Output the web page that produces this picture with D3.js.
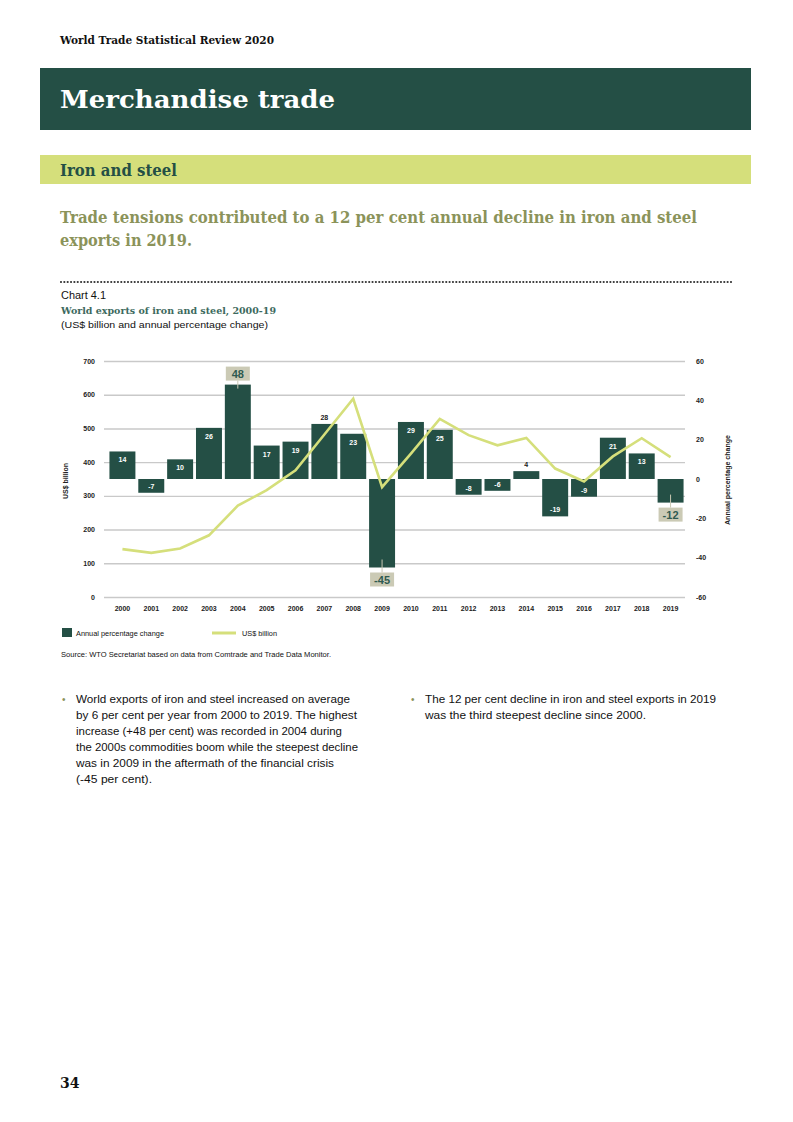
<!DOCTYPE html>
<html>
<head>
<meta charset="utf-8">
<script src="https://cdn.jsdelivr.net/npm/d3@7"></script>
<style>
  body { margin: 0; background: #fff; }
  svg text { font-family: "Liberation Sans", Arial, sans-serif; }
  .slab { font-family: "DejaVu Serif", serif; }
  .chartfont { font-family: "Open Sans", "Liberation Sans", sans-serif; }
</style>
</head>
<body>
<div id="page"></div>
<script>
// ---- data ----
var years = ["2000","2001","2002","2003","2004","2005","2006","2007","2008","2009",
             "2010","2011","2012","2013","2014","2015","2016","2017","2018","2019"];
var pctChange = [14, -7, 10, 26, 48, 17, 19, 28, 23, -45, 29, 25, -8, -6, 4, -19, -9, 21, 13, -12];
var usdBillion = [142, 131, 144, 183, 271, 317, 376, 482, 588, 326, 425, 528, 480, 450, 472, 381, 343, 417, 471, 415];
var leftTicks = [0, 100, 200, 300, 400, 500, 600, 700];
var rightTicks = [-60, -40, -20, 0, 20, 40, 60];
var highlightYears = ["2004", "2009", "2019"];
var outsideLabelYears = ["2007", "2014"];

var dark = "#244f45", lime = "#d5df7b", olive = "#8b935a";

var svg = d3.select("#page").append("svg")
    .attr("width", 793).attr("height", 1122);

// ---- page header ----
svg.append("text").attr("class", "slab")
   .attr("x", 60).attr("y", 44)
   .attr("font-size", 11).attr("font-weight", "bold").attr("fill", "#111")
   .attr("textLength", 214).attr("lengthAdjust", "spacingAndGlyphs")
   .text("World Trade Statistical Review 2020");

svg.append("rect").attr("x", 40).attr("y", 68).attr("width", 711).attr("height", 62).attr("fill", dark);
svg.append("text").attr("class", "slab")
   .attr("x", 60).attr("y", 108)
   .attr("font-size", 24).attr("font-weight", "bold").attr("fill", "#fff")
   .attr("textLength", 275).attr("lengthAdjust", "spacingAndGlyphs")
   .text("Merchandise trade");

svg.append("rect").attr("x", 40).attr("y", 155).attr("width", 711).attr("height", 29).attr("fill", lime);
svg.append("text").attr("class", "slab")
   .attr("x", 60).attr("y", 176)
   .attr("font-size", 16.5).attr("font-weight", "bold").attr("fill", dark)
   .attr("textLength", 117).attr("lengthAdjust", "spacingAndGlyphs")
   .text("Iron and steel");

var headline = [
  {t: "Trade tensions contributed to a 12 per cent annual decline in iron and steel", w: 637},
  {t: "exports in 2019.", w: 132}
];
svg.selectAll(".headline").data(headline).enter().append("text")
   .attr("class", "slab headline")
   .attr("x", 60).attr("y", (d, i) => 223 + i * 23)
   .attr("font-size", 16.5).attr("font-weight", "bold").attr("fill", olive)
   .attr("textLength", d => d.w).attr("lengthAdjust", "spacingAndGlyphs")
   .text(d => d.t);

// dotted separator
svg.append("line").attr("x1", 61).attr("x2", 733).attr("y1", 282).attr("y2", 282)
   .attr("stroke", "#333").attr("stroke-width", 2.2)
   .attr("stroke-linecap", "round").attr("stroke-dasharray", "0 3.35");

svg.append("text").attr("x", 61).attr("y", 299)
   .attr("font-size", 10).attr("fill", "#111")
   .attr("textLength", 45).attr("lengthAdjust", "spacingAndGlyphs")
   .text("Chart 4.1");
svg.append("text").attr("class", "slab")
   .attr("x", 61).attr("y", 314)
   .attr("font-size", 10).attr("font-weight", "bold").attr("fill", "#3d6a5e")
   .attr("textLength", 215).attr("lengthAdjust", "spacingAndGlyphs")
   .text("World exports of iron and steel, 2000-19");
svg.append("text").attr("x", 61).attr("y", 328)
   .attr("font-size", 9.5).attr("fill", "#111")
   .attr("textLength", 207).attr("lengthAdjust", "spacingAndGlyphs")
   .text("(US$ billion and annual percentage change)");

// ---- chart ----
var x = d3.scaleBand().domain(years).range([108, 685]).paddingInner(0.1).paddingOuter(0.05);
var yL = d3.scaleLinear().domain([0, 700]).range([597, 361]);
var yR = d3.scaleLinear().domain([-60, 60]).range([597, 361]);
var cx = d => x(d) + x.bandwidth() / 2;

var chart = svg.append("g").attr("class", "chartfont");

// gridlines + left axis
var gAxisL = chart.append("g").attr("transform", "translate(104,0)")
    .call(d3.axisRight(yL).tickValues(leftTicks).tickSize(581).tickFormat(""));
gAxisL.select(".domain").remove();
gAxisL.selectAll(".tick line").attr("stroke", "#c9c9c9").attr("stroke-width", 1.4);

chart.selectAll(".ltick").data(leftTicks).enter().append("text")
   .attr("x", 95).attr("y", d => yL(d) + 2.5)
   .attr("text-anchor", "end").attr("font-size", 7).attr("font-weight", "bold").attr("fill", "#222")
   .text(d => d);

var gAxisR = chart.append("g").attr("transform", "translate(690,0)")
    .call(d3.axisRight(yR).tickValues(rightTicks).tickSize(0).tickPadding(6).tickFormat(d => String(d)));
gAxisR.select(".domain").remove();
gAxisR.selectAll("text").attr("font-size", 7).attr("font-weight", "bold").attr("fill", "#222")
   .attr("font-family", "Open Sans, Liberation Sans, sans-serif");

chart.append("text")
   .attr("transform", "translate(68,481) rotate(-90)")
   .attr("text-anchor", "middle").attr("font-size", 7).attr("font-weight", "bold").attr("fill", "#222")
   .text("US$ billion");
chart.append("text")
   .attr("transform", "translate(730,480) rotate(-90)")
   .attr("text-anchor", "middle").attr("font-size", 7).attr("font-weight", "bold").attr("fill", "#222")
   .attr("textLength", 90).attr("lengthAdjust", "spacingAndGlyphs")
   .text("Annual percentage change");

// x labels
var gAxisX = chart.append("g").attr("transform", "translate(0,603)")
    .call(d3.axisBottom(x).tickSize(0).tickPadding(3));
gAxisX.select(".domain").remove();
gAxisX.selectAll("text").attr("font-size", 7).attr("font-weight", "bold").attr("fill", "#222")
   .attr("font-family", "Open Sans, Liberation Sans, sans-serif");

// bars
var barData = years.map((y, i) => ({year: y, pct: pctChange[i], usd: usdBillion[i]}));

chart.selectAll(".bar").data(barData).enter().append("rect")
   .attr("class", "bar")
   .attr("x", d => x(d.year)).attr("width", x.bandwidth())
   .attr("y", d => yR(Math.max(0, d.pct)))
   .attr("height", d => Math.abs(yR(d.pct) - yR(0)))
   .attr("fill", dark);

// line
var line = d3.line().x(d => cx(d.year)).y(d => yL(d.usd));
chart.append("path").datum(barData)
   .attr("d", line).attr("fill", "none")
   .attr("stroke", lime).attr("stroke-width", 2.6).attr("stroke-linejoin", "miter");

// normal bar labels
var plain = barData.filter(d => highlightYears.indexOf(d.year) < 0);
chart.selectAll(".blabel").data(plain).enter().append("text")
   .attr("class", "blabel")
   .attr("x", d => cx(d.year))
   .attr("y", d => {
      if (outsideLabelYears.indexOf(d.year) >= 0) return yR(d.pct) - 4;
      return d.pct >= 0 ? yR(d.pct) + 11 : yR(d.pct) - 4;
   })
   .attr("text-anchor", "middle").attr("font-size", 7).attr("font-weight", "600")
   .attr("fill", d => outsideLabelYears.indexOf(d.year) >= 0 ? "#222" : "#fff")
   .text(d => d.pct);

// highlighted labels in boxes
var hl = barData.filter(d => highlightYears.indexOf(d.year) >= 0);
var hg = chart.selectAll(".hl").data(hl).enter().append("g").attr("class", "hl");
hg.append("line")
   .attr("x1", d => cx(d.year)).attr("x2", d => cx(d.year))
   .attr("y1", d => d.pct >= 0 ? yR(d.pct) - 4 : yR(d.pct) - 8)
   .attr("y2", d => d.pct >= 0 ? yR(d.pct) + 4 : yR(d.pct) + 5)
   .attr("stroke", "#c9c8b3").attr("stroke-width", 1);
hg.append("rect")
   .attr("x", d => cx(d.year) - 12).attr("width", 24).attr("height", 14)
   .attr("y", d => d.pct >= 0 ? yR(d.pct) - 18 : yR(d.pct) + 5)
   .attr("fill", "#cbcab5");
hg.append("text")
   .attr("x", d => cx(d.year))
   .attr("y", d => d.pct >= 0 ? yR(d.pct) - 7 : yR(d.pct) + 16)
   .attr("text-anchor", "middle").attr("font-size", 11).attr("font-weight", "bold")
   .attr("fill", "#2f5a50")
   .text(d => d.pct);

// legend
chart.append("rect").attr("x", 62).attr("y", 628).attr("width", 10).attr("height", 9).attr("fill", dark);
chart.append("text").attr("x", 76).attr("y", 636)
   .attr("font-size", 7).attr("fill", "#111")
   .attr("textLength", 88).attr("lengthAdjust", "spacingAndGlyphs")
   .text("Annual percentage change");
chart.append("line").attr("x1", 212).attr("x2", 236).attr("y1", 633).attr("y2", 633)
   .attr("stroke", lime).attr("stroke-width", 3);
chart.append("text").attr("x", 242).attr("y", 636)
   .attr("font-size", 7).attr("fill", "#111")
   .attr("textLength", 35).attr("lengthAdjust", "spacingAndGlyphs")
   .text("US$ billion");

svg.append("text").attr("x", 61).attr("y", 657)
   .attr("font-size", 6.8).attr("fill", "#111")
   .attr("textLength", 270).attr("lengthAdjust", "spacingAndGlyphs")
   .text("Source: WTO Secretariat based on data from Comtrade and Trade Data Monitor.");

// ---- body text ----
var colLeft = [
  {t: "World exports of iron and steel increased on average", w: 274},
  {t: "by 6 per cent per year from 2000 to 2019. The highest", w: 281},
  {t: "increase (+48 per cent) was recorded in 2004 during", w: 266},
  {t: "the 2000s commodities boom while the steepest decline", w: 282},
  {t: "was in 2009 in the aftermath of the financial crisis", w: 258},
  {t: "(-45 per cent).", w: 76}
];
var colRight = [
  {t: "The 12 per cent decline in iron and steel exports in 2019", w: 291},
  {t: "was the third steepest decline since 2000.", w: 221}
];
function para(lines, x0) {
  svg.append("text").attr("x", x0 - 14).attr("y", 703)
     .attr("font-size", 10).attr("fill", olive).text("•");
  svg.selectAll(null).data(lines).enter().append("text")
     .attr("x", x0).attr("y", (d, i) => 703 + i * 16)
     .attr("font-size", 11).attr("fill", "#111")
     .attr("textLength", d => d.w).attr("lengthAdjust", "spacingAndGlyphs")
     .text(d => d.t);
}
para(colLeft, 76);
para(colRight, 425);

svg.append("text").attr("class", "slab")
   .attr("x", 60).attr("y", 1088)
   .attr("font-size", 14).attr("font-weight", "bold").attr("fill", "#111")
   .text("34");
</script>
</body>
</html>
